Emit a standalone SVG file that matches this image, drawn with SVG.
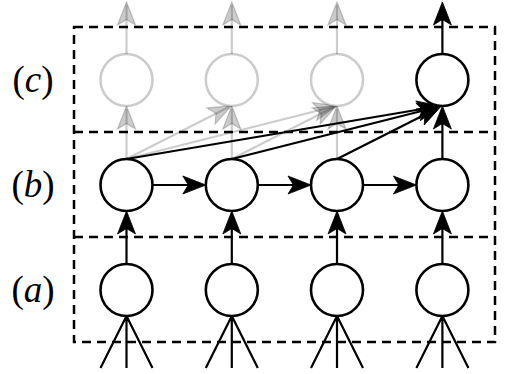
<svg xmlns="http://www.w3.org/2000/svg" width="507" height="374" viewBox="0 0 507 374">
<style>
.frame{fill:none;stroke:#000;stroke-width:2.5;stroke-dasharray:9 6}
.node{fill:#fff;stroke:#000;stroke-width:2.6}
.ghost{fill:#fff;stroke:#000;stroke-opacity:0.2;stroke-width:2.6}
.e{fill:none;stroke:#000;stroke-width:2.2}
.ea{fill:none;stroke:#000;stroke-width:2.2;marker-end:url(#ah)}
.ga{fill:none;stroke:#000;stroke-opacity:0.2;stroke-width:2.2;marker-end:url(#gh)}
.lbl{font-family:"Liberation Serif","DejaVu Serif",serif;font-size:37px;fill:#000}
</style>
<defs>
<marker id="ah" markerUnits="userSpaceOnUse" viewBox="-26 -11 30 22" refX="0" refY="0" markerWidth="30" markerHeight="22" orient="auto" overflow="visible">
<path d="M3,0 L-20,-9 L-14.5,0 L-20,9 Z" fill="#000" stroke="#000" stroke-width="0.8" stroke-linejoin="miter"/>
</marker>
<marker id="gh" markerUnits="userSpaceOnUse" viewBox="-26 -11 30 22" refX="0" refY="0" markerWidth="30" markerHeight="22" orient="auto" overflow="visible">
<path d="M3,0 L-20,-9 L-14.5,0 L-20,9 Z" fill="#000" fill-opacity="0.2" stroke="#000" stroke-opacity="0.2" stroke-width="1.2"/>
</marker>
</defs>
<rect width="507" height="374" fill="#fff"/>
<g id="frames">
<rect class="frame" x="74" y="27" width="421" height="315"/>
<line class="frame" x1="74" y1="132" x2="495" y2="132"/>
<line class="frame" x1="74" y1="237" x2="495" y2="237"/>
</g>
<g id="labels">
<text class="lbl" x="33" y="92" text-anchor="middle">(<tspan font-style="italic">c</tspan>)</text>
<text class="lbl" x="33" y="197" text-anchor="middle">(<tspan font-style="italic">b</tspan>)</text>
<text class="lbl" x="33" y="302" text-anchor="middle">(<tspan font-style="italic">a</tspan>)</text>
</g>
<g id="connectors">
<path class="e" d="M100.5,368 L126.5,316 L152.5,368 M126.5,316 V368"/>
<path class="e" d="M205.8,368 L231.8,316 L257.8,368 M231.8,316 V368"/>
<path class="e" d="M311,368 L337,316 L363,368 M337,316 V368"/>
<path class="e" d="M416.4,368 L442.4,316 L468.4,368 M442.4,316 V368"/>
<path class="ea" d="M126.5,264 V214"/>
<path class="ea" d="M231.8,264 V214"/>
<path class="ea" d="M337,264 V214"/>
<path class="ea" d="M442.4,264 V214"/>
<path class="ea" d="M152.5,185 H202.8"/>
<path class="ea" d="M257.8,185 H308"/>
<path class="ea" d="M363,185 H413.4"/>
<path class="ga" d="M126.5,159 V109"/>
<path class="ga" d="M231.8,159 V109"/>
<path class="ga" d="M337,159 V109"/>
<path class="ga" d="M126.5,159 L228.9,107"/>
<path class="ga" d="M126.5,159 L334,106.5"/>
<path class="ga" d="M231.8,159 L334,107"/>
<path class="ea" d="M126.5,159 L437,106.5"/>
<path class="ea" d="M231.8,159 L437.5,107"/>
<path class="ea" d="M337,159 L438,108"/>
<path class="ea" d="M442.4,159 V109"/>
<path class="ga" d="M126.5,54 V5"/>
<path class="ga" d="M231.8,54 V5"/>
<path class="ga" d="M337,54 V5"/>
<path class="ea" d="M442.4,54 V5"/>
</g>
<g id="nodes">
<g id="a1"><circle class="node" cx="126.5" cy="290" r="26"/></g>
<g id="a2"><circle class="node" cx="231.8" cy="290" r="26"/></g>
<g id="a3"><circle class="node" cx="337" cy="290" r="26"/></g>
<g id="a4"><circle class="node" cx="442.4" cy="290" r="26"/></g>
<g id="b1"><circle class="node" cx="126.5" cy="185" r="26"/></g>
<g id="b2"><circle class="node" cx="231.8" cy="185" r="26"/></g>
<g id="b3"><circle class="node" cx="337" cy="185" r="26"/></g>
<g id="b4"><circle class="node" cx="442.4" cy="185" r="26"/></g>
<g id="c1"><circle class="ghost" cx="126.5" cy="80" r="26"/></g>
<g id="c2"><circle class="ghost" cx="231.8" cy="80" r="26"/></g>
<g id="c3"><circle class="ghost" cx="337" cy="80" r="26"/></g>
<g id="c4"><circle class="node" cx="442.4" cy="80" r="26"/></g>
</g>
</svg>
